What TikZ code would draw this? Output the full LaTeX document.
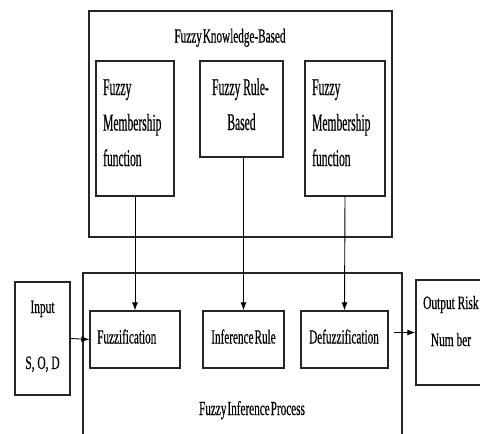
\documentclass[tikz,border=0pt]{standalone}
\usepackage{fontspec}
\setmainfont{Liberation Serif}
\newfontfamily\condA[FakeStretch=0.56,FakeBold=0.4]{Liberation Serif}
\newfontfamily\condB[FakeStretch=0.48,FakeBold=0.4]{Liberation Serif}
\newfontfamily\condC[FakeStretch=0.6,FakeBold=0.4]{Liberation Serif}
\usetikzlibrary{arrows.meta}
\tikzset{
  box/.style={draw=black!85, line width=1.2pt, rectangle, inner sep=0pt},
  tbig/.style={font=\condB\fontsize{24}{28}\selectfont, inner sep=0pt},
  tmid/.style={font=\condA\fontsize{20}{24}\selectfont, inner sep=0pt},
  tio/.style={font=\condC\fontsize{19}{23}\selectfont, inner sep=0pt},
  conn/.style={line width=0.9pt, -{Latex[length=8pt,width=6pt]}},
}
\begin{document}
\begin{tikzpicture}[x=1pt,y=-1pt]
\useasboundingbox (0,0) rectangle (480,434);
\clip (0,0) rectangle (480,434);
% top group
\node[box, minimum width=303pt, minimum height=226pt] (kb) at (240.5,124) {};
\node[tmid, anchor=base] (kbt) at (230,42.5) {Fuzzy\kern1pt Knowledge-Based};
\node[box, minimum width=78pt, minimum height=135pt] (mf1) at (135,128.5) {};
\node[box, minimum width=83pt, minimum height=96pt] (rb) at (241.5,109) {};
\node[box, minimum width=80pt, minimum height=135pt] (mf2) at (345,128.5) {};
\node[tbig, anchor=base west] (mf1a) at (103,95) {Fuzzy};
\node[tbig, anchor=base west] (mf1b) at (103,130.5) {Membership};
\node[tbig, anchor=base west] (mf1c) at (103,166) {function};
\node[tbig, anchor=base] (rba) at (240.5,95) {Fuzzy Rule-};
\node[tbig, anchor=base] (rbb) at (241.5,130) {Based};
\node[tbig, anchor=base west] (mf2a) at (312,95) {Fuzzy};
\node[tbig, anchor=base west] (mf2b) at (312,130.5) {Membership};
\node[tbig, anchor=base west] (mf2c) at (312,166) {function};
% bottom group
\node[box, minimum width=319pt, minimum height=187pt] (fip) at (242.5,366.5) {};
\node[tmid, anchor=base] (fipt) at (252,415) {Fuzzy\kern1pt Inference\kern1pt Process};
\node[box, minimum width=55pt, minimum height=113pt] (in) at (42.5,338.5) {};
\node[tio, anchor=base] (ina) at (42.5,313) {Input};
\node[tio, anchor=base] (inb) at (42.5,369) {S, O, D};
\node[box, minimum width=90pt, minimum height=57pt] (fz) at (135,339.5) {};
\node[tmid, anchor=base west] (fzt) at (97,343.5) {Fuzzification};
\node[box, minimum width=81pt, minimum height=57pt] (ir) at (243.5,339.5) {};
\node[tmid, anchor=base] (irt) at (243.5,343.5) {Inference\kern1pt Rule};
\node[box, minimum width=87pt, minimum height=57pt] (dz) at (344.5,339.5) {};
\node[tmid, anchor=base] (dzt) at (344,343.5) {Defuzzification};
\node[box, minimum width=84pt, minimum height=105pt] (out) at (458,332.5) {};
\node[tio, anchor=base west] (outa) at (423,309) {Output Risk};
\node[tio, anchor=base] (outb) at (451,346) {Num ber};
% connectors
\draw[conn] (mf1.south) -- (fz.north);
\draw[conn] (rb.south -| ir.north) -- (ir.north);
\draw[conn] (mf2.south) -- (dz.north);
\draw[conn] (in.east) -- (fz.west);
\draw[conn, shorten <=5pt] (dz.east |- out.west) -- (out.west);
\end{tikzpicture}
\end{document}
